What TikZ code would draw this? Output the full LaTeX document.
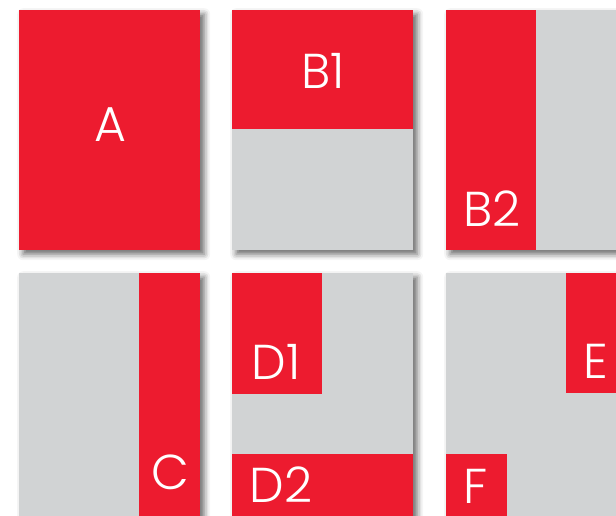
\documentclass[tikz,border=0pt]{standalone}
\usepackage{fontspec}
\IfFontExistsTF{Poppins Light}{\setmainfont{Poppins Light}}{\setmainfont{Poppins}}
\usetikzlibrary{positioning,shadows.blur}
\definecolor{signal}{HTML}{ED1B2F}
\definecolor{fog}{HTML}{D1D3D4}

\begin{document}
\begin{tikzpicture}[
  x=1pt,y=-1pt,
  panel/.style={rectangle,draw=none,fill=fog,anchor=north west,minimum width=181pt,minimum height=240pt,inner sep=0pt,
    blur shadow={shadow xshift=4pt,shadow yshift=-4pt,shadow blur radius=6pt,shadow opacity=60}},
  full/.style={panel,fill=signal},
  tall/.style={panel,minimum height=260pt},
  slab/.style={rectangle,draw=none,fill=signal,anchor=north west,inner sep=0pt},
  lbl/.style={text=white,font=\fontsize{49}{49}\selectfont,inner sep=0pt,text depth=0pt}
]
\useasboundingbox (0,0) rectangle (616,515);
\clip (0,0) rectangle (616,515);
% top row
\node[full] (pA) at (19,10) {};
\node[panel] (pB) at (232,10) {};
\node[panel] (pG) at (446,10) {};
\node[slab,minimum width=181pt,minimum height=119pt] (b1) at (pB.north west) {};
\node[slab,minimum width=90pt,minimum height=240pt] (b2) at (pG.north west) {};
% bottom row, runs off the page
\node[tall] (pC) at (19,273) {};
\node[tall] (pD) at (232,273) {};
\node[tall] (pH) at (446,273) {};
\node[slab,minimum width=61pt,minimum height=260pt,anchor=north east] (c) at (pC.north east) {};
\node[slab,minimum width=90pt,minimum height=121pt] (d1) at (pD.north west) {};
\node[slab,minimum width=181pt,minimum height=70pt] (d2) at (232,454) {};
\node[slab,minimum width=61pt,minimum height=120pt] (e) at (566,273) {};
\node[slab,minimum width=61pt,minimum height=70pt] (f) at (446,454) {};
% labels
\node[lbl] (lA) at (110,125) {A};
\node[lbl] (lB1) at (323,71) {B1};
\node[lbl] (lB2) at (492,209) {B2};
\node[lbl] (lC) at (170,472) {C};
\node[lbl] (lD1) at (276,362) {D1};
\node[lbl] (lD2) at (281,485) {D2};
\node[lbl] (lE) at (596,361) {E};
\node[lbl] (lF) at (476,486) {F};
\end{tikzpicture}
\end{document}
